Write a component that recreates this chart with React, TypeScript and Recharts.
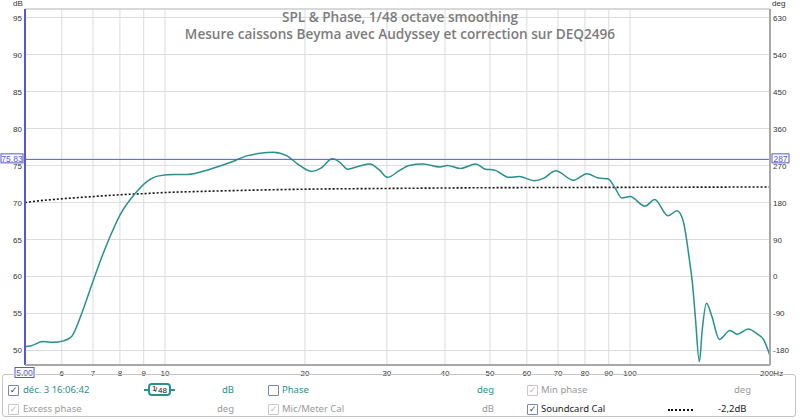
import React from "react";
import {
  ComposedChart,
  Line,
  XAxis,
  YAxis,
  CartesianGrid,
  ReferenceLine,
} from "recharts";

// x axis (Hz, log) and tick values
const freqTicks = [5, 6, 7, 8, 9, 10, 20, 30, 40, 50, 60, 70, 80, 90, 100, 200];
const dbTicks = [50, 55, 60, 65, 70, 75, 80, 85, 90, 95];
const degTicks = [-180, -90, 0, 90, 180, 270, 360, 450, 540, 630];

// SPL measurement, 1/48 octave smoothing
const splFreq = [
  5.0, 5.13, 5.47, 5.75, 6.05, 6.3, 6.62, 6.9, 7.3, 7.62, 8.0, 8.62, 9.13, 9.7,
  10.5, 11.2, 12.5, 13.8, 15, 16, 17.1, 18.3, 19.2, 20.7, 21.6, 22.9, 23.8,
  24.7, 26.1, 27.6, 28.9, 30.1, 31.9, 33.5, 35.9, 39, 40.5, 43.2, 46.6, 48.9,
  51, 55, 57.8, 62.2, 65.3, 69.2, 75.6, 80.8, 85.5, 89.6, 92.6, 96, 100, 107.7,
  113, 120.7, 126.2, 130, 134.5, 136, 138, 141, 143, 146, 150, 155.6, 164, 170,
  179.7, 187, 194, 200,
];
const splDb = [
  50.5, 50.6, 51.2, 51.1, 51.3, 51.9, 55.0, 58.2, 62.5, 65.4, 68.3, 71.2, 72.8,
  73.6, 73.8, 73.8, 74.5, 75.4, 76.3, 76.65, 76.8, 76.3, 75.3, 74.2, 74.6, 75.9,
  75.4, 74.5, 74.9, 75.2, 74.4, 73.4, 74.3, 75.0, 75.2, 74.8, 75.0, 74.6, 75.2,
  74.5, 74.4, 73.4, 73.5, 72.95, 73.3, 74.3, 73.0, 73.9, 73.3, 73.2, 72.1,
  70.6, 70.8, 69.5, 70.4, 68.2, 68.9, 67.6, 61.8, 59.5, 55.0, 48.5, 52.8, 56.4,
  54.6, 51.5, 52.7, 52.2, 52.9, 52.3, 51.4, 49.3,
];

// soundcard calibration (dotted)
const calFreq = [5, 5.5, 6, 7, 8, 9, 10, 12, 15, 20, 30, 50, 100, 200];
const calDb = [
  70.0, 70.3, 70.5, 70.8, 71.05, 71.2, 71.35, 71.5, 71.65, 71.8, 71.9, 72.0,
  72.05, 72.1,
];

const cursorDb = 75.83;
const cursorDeg = "287";
const cursorFreq = 5;

const dbDomain = [48.04, 96.15];
const degDomain = [(dbDomain[0] - 50) * 18 - 180, (dbDomain[1] - 50) * 18 - 180];

const splData = splFreq.map((f, i) => ({ f, db: splDb[i] }));
const calData = calFreq.map((f, i) => ({ f, db: calDb[i] }));

const TEAL = "#2a8f8f";
const CURSOR = "#5656d8";
const tickFont = "'Liberation Sans', Arial, sans-serif";
const uiFont = "'Noto Sans', 'Open Sans', sans-serif";

const XTick = ({ x, y, payload }: any) => {
  if (payload.value === 5) return null;
  const is200 = payload.value === 200;
  return (
    <text
      x={is200 ? x - 10 : x}
      y={y + 3}
      textAnchor={is200 ? "start" : "middle"}
      fontSize={8}
      fontFamily={tickFont}
      fill="#333"
    >
      {is200 ? "200Hz" : String(payload.value)}
    </text>
  );
};

const LeftTick = ({ y, payload }: any) => (
  <text x={22} y={y + 3} textAnchor="end" fontSize={8} fontFamily={tickFont} fill="#333">
    {payload.value}
  </text>
);

const RightTick = ({ y, payload }: any) => (
  <text x={773} y={y + 3} textAnchor="start" fontSize={8} fontFamily={tickFont} fill="#333">
    {payload.value}
  </text>
);

const HCursorLabel = ({ viewBox }: any) => {
  const { x, y, width } = viewBox;
  return (
    <g fontFamily={tickFont} fontSize={8.5} fill={CURSOR}>
      <rect x={x - 24} y={y - 5.5} width={22} height={9} fill="#fff" stroke={CURSOR} />
      <text x={x - 13} y={y + 2.5} textAnchor="middle">{cursorDb.toFixed(2)}</text>
      <rect x={x + width + 2} y={y - 5.5} width={17} height={9} fill="#fff" stroke={CURSOR} />
      <text x={x + width + 10.5} y={y + 2.5} textAnchor="middle">{cursorDeg}</text>
    </g>
  );
};

const VCursorLabel = ({ viewBox }: any) => {
  const { x, y, height } = viewBox;
  return (
    <g fontFamily={tickFont} fontSize={8.5} fill={CURSOR}>
      <rect x={x - 10} y={y + height + 2.5} width={19} height={10} fill="#fff" stroke={CURSOR} />
      <text x={x - 0.5} y={y + height + 10.5} textAnchor="middle">
        {cursorFreq.toFixed(2)}
      </text>
    </g>
  );
};

const Box = ({ state }: { state: "on" | "off" | "dis" }) => (
  <span
    style={{
      position: "absolute",
      width: 9,
      height: 9,
      border: `1px solid ${state === "dis" ? "#c8c8c8" : "#7a86a8"}`,
      background: "#fff",
      borderRadius: 1,
      fontSize: 9,
      lineHeight: "9px",
      textAlign: "center",
      color: state === "dis" ? "#bbb" : "#2a3a8a",
      fontFamily: "'DejaVu Sans', sans-serif",
    }}
  >
    {state === "off" ? "" : "\u2713"}
  </span>
);

const At = ({ x, y, children, color = "#999", style }: any) => (
  <div
    style={{
      position: "absolute",
      left: x,
      top: y,
      color,
      fontSize: 9.5,
      fontFamily: uiFont,
      lineHeight: "12px",
      whiteSpace: "nowrap",
      ...style,
    }}
  >
    {children}
  </div>
);

export default function App() {
  return (
    <div style={{ position: "absolute", left: 0, top: 0, width: 800, height: 420, background: "#fff" }}>
      <ComposedChart width={800} height={420} margin={{ top: 9, right: 0, bottom: 35, left: 0 }}>
        <CartesianGrid stroke="#dcdcdc" yAxisId="db" xAxisId="f" />
        <XAxis
          xAxisId="f"
          dataKey="f"
          type="number"
          scale="log"
          domain={[5, 200]}
          ticks={freqTicks}
          allowDataOverflow
          height={20}
          tickLine={false}
          axisLine={{ stroke: "#a8a8a8", strokeWidth: 2 }}
          tick={<XTick />}
          interval={0}
        />
        <YAxis
          yAxisId="db"
          orientation="left"
          width={25}
          domain={dbDomain}
          ticks={dbTicks}
          allowDataOverflow
          tickLine={false}
          axisLine={false}
          tick={<LeftTick />}
          interval={0}
        />
        <YAxis
          yAxisId="deg"
          orientation="right"
          width={30}
          domain={degDomain}
          ticks={degTicks}
          allowDataOverflow
          tickLine={false}
          axisLine={{ stroke: "#a8a8a8", strokeWidth: 2 }}
          tick={<RightTick />}
          interval={0}
        />
        <ReferenceLine yAxisId="db" xAxisId="f" y={dbDomain[1]} stroke="#c4c4c4" />
        <Line
          xAxisId="f"
          yAxisId="db"
          data={calData}
          dataKey="db"
          type="monotone"
          stroke="#111"
          strokeWidth={1.6}
          strokeDasharray="2 2"
          dot={false}
          isAnimationActive={false}
        />
        <Line
          xAxisId="f"
          yAxisId="db"
          data={splData}
          dataKey="db"
          type="monotone"
          stroke={TEAL}
          strokeWidth={1.5}
          dot={false}
          isAnimationActive={false}
        />
        <ReferenceLine
          yAxisId="db"
          xAxisId="f"
          y={cursorDb}
          stroke={CURSOR}
          label={<HCursorLabel />}
        />
        <ReferenceLine
          yAxisId="db"
          xAxisId="f"
          x={cursorFreq}
          stroke={CURSOR}
          strokeWidth={2}
          label={<VCursorLabel />}
        />
      </ComposedChart>

      <At x={13} y={-1} color="#333" style={{ fontSize: 8, fontFamily: tickFont, lineHeight: "9px" }}>dB</At>
      <At x={772} y={-1} color="#333" style={{ fontSize: 8, fontFamily: tickFont, lineHeight: "9px" }}>deg</At>

      <div
        style={{
          position: "absolute",
          left: 0,
          top: 8,
          width: 800,
          textAlign: "center",
          color: "#7c7c7c",
          fontFamily: "'Open Sans', sans-serif",
          fontWeight: 600,
          fontSize: 13.6,
          lineHeight: "17px",
        }}
      >
        <div>SPL &amp; Phase, 1/48 octave smoothing</div>
        <div>Mesure caissons Beyma avec Audyssey et correction sur DEQ2496</div>
      </div>

      <div
        style={{
          position: "absolute",
          left: 2,
          top: 374,
          width: 794,
          height: 43,
          border: "1px solid #c4c4c4",
          borderRadius: 3,
          boxSizing: "border-box",
        }}
      />
      <div style={{ position: "absolute", left: 8, top: 385 }}><Box state="on" /></div>
      <At x={23} y={384} color={TEAL}>déc. 3 16:06:42</At>
      <div style={{ position: "absolute", left: 144, top: 389, width: 31, height: 2, background: TEAL }} />
      <div
        style={{
          position: "absolute",
          left: 148,
          top: 383,
          width: 23,
          height: 13,
          border: `2px solid ${TEAL}`,
          borderRadius: 4,
          boxSizing: "border-box",
          background: "#fff",
          fontFamily: tickFont,
          color: "#111",
          whiteSpace: "nowrap",
        }}
      >
        <span style={{ position: "absolute", left: 2, top: -1, fontSize: 8 }}>1</span>
        <span style={{ position: "absolute", left: 5, top: 0, fontSize: 8 }}>/</span>
        <span style={{ position: "absolute", left: 8, top: 1, fontSize: 8 }}>48</span>
      </div>
      <At x={222} y={384} color={TEAL}>dB</At>
      <div style={{ position: "absolute", left: 268, top: 385 }}><Box state="off" /></div>
      <At x={282} y={384} color={TEAL}>Phase</At>
      <At x={477} y={384} color={TEAL}>deg</At>
      <div style={{ position: "absolute", left: 527, top: 385 }}><Box state="dis" /></div>
      <At x={541} y={384}>Min phase</At>
      <At x={734} y={384}>deg</At>

      <div style={{ position: "absolute", left: 8, top: 404 }}><Box state="dis" /></div>
      <At x={23} y={403}>Excess phase</At>
      <At x={217} y={403}>deg</At>
      <div style={{ position: "absolute", left: 268, top: 404 }}><Box state="dis" /></div>
      <At x={282} y={403}>Mic/Meter Cal</At>
      <At x={482} y={403}>dB</At>
      <div style={{ position: "absolute", left: 527, top: 404 }}><Box state="on" /></div>
      <At x={541} y={403} color="#222">Soundcard Cal</At>
      <div style={{ position: "absolute", left: 668, top: 409, width: 25, borderTop: "2px dotted #111" }} />
      <At x={718} y={403} color="#222">-2,2dB</At>
    </div>
  );
}
